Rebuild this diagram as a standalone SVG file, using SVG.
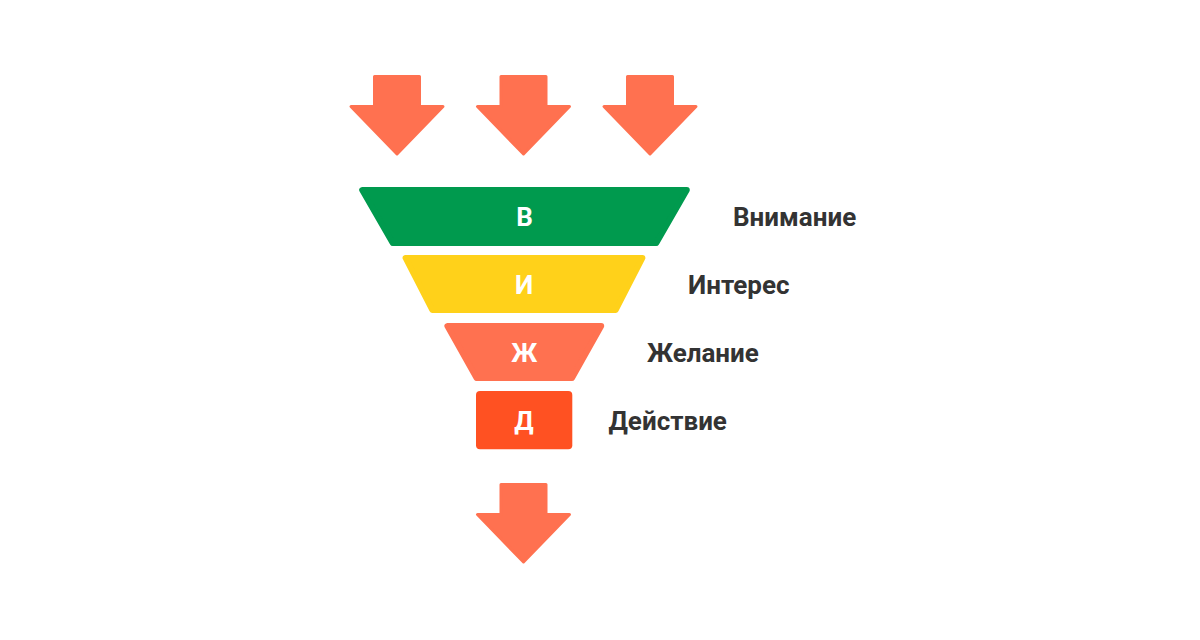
<svg xmlns="http://www.w3.org/2000/svg" xmlns:xlink="http://www.w3.org/1999/xlink" width="1200" height="640" viewBox="0 0 1200 640">
  <style>
    .arrow { fill: #FF7150; stroke: #FF7150; stroke-width: 3; stroke-linejoin: round; }
    .blk { stroke-width: 6; stroke-linejoin: round; }
    .letter { font-family: Roboto, "Liberation Sans", sans-serif; font-weight: bold; font-size: 26px; fill: #FFFFFF; text-anchor: middle; }
    .label { font-family: Roboto, "Liberation Sans", sans-serif; font-weight: bold; font-size: 26px; fill: #333333; }
  </style>
  <defs>
    <path id="arrowShape" d="M-22.5,1.5 H22.5 V31.5 H46 L0,79 L-46,31.5 H-22.5 Z"/>
  </defs>
  <rect width="1200" height="640" fill="#FFFFFF"/>
  <g id="connectors">
    <use xlink:href="#arrowShape" href="#arrowShape" class="arrow" transform="translate(397,75)"/>
    <use xlink:href="#arrowShape" href="#arrowShape" class="arrow" transform="translate(523.5,75)"/>
    <use xlink:href="#arrowShape" href="#arrowShape" class="arrow" transform="translate(650,75)"/>
    <use xlink:href="#arrowShape" href="#arrowShape" class="arrow" transform="translate(523.5,483)"/>
  </g>
  <g id="node-attention">
    <polygon class="blk" fill="#009A4E" stroke="#009A4E" points="362.2,190 686.8,190 656.3,243 392.7,243"/>
    <text class="letter" x="524.5" y="226">В</text>
    <text class="label" x="733" y="226">Внимание</text>
  </g>
  <g id="node-interest">
    <polygon class="blk" fill="#FFD11A" stroke="#FFD11A" points="405.6,258 642.4,258 615.7,310 432.3,310"/>
    <text class="letter" x="524" y="294">И</text>
    <text class="label" x="688" y="294">Интерес</text>
  </g>
  <g id="node-desire">
    <polygon class="blk" fill="#FF7150" stroke="#FF7150" points="447.4,326 601.2,326 572,378 476.6,378"/>
    <text class="letter" x="524.3" y="362">Ж</text>
    <text class="label" x="647" y="362">Желание</text>
  </g>
  <g id="node-action">
    <rect x="476" y="391" width="96.3" height="58.3" rx="4" fill="#FF5122"/>
    <text class="letter" x="524" y="429.5">Д</text>
    <text class="label" x="608.5" y="429.5">Действие</text>
  </g>
</svg>
